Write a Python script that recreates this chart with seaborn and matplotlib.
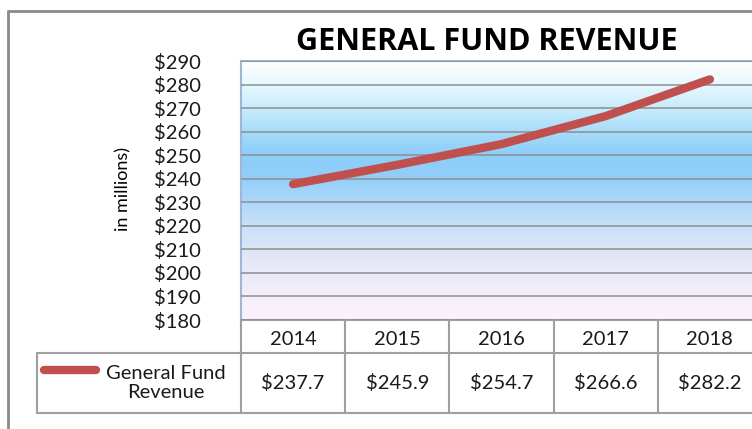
import numpy as np
import pandas as pd
import matplotlib
matplotlib.use("Agg")
import matplotlib.pyplot as plt
from matplotlib.colors import LinearSegmentedColormap
from matplotlib.lines import Line2D
import matplotlib.transforms as mtrans
import seaborn as sns

# ---- data ----
years = ["2014", "2015", "2016", "2017", "2018"]
revenue = [237.7, 245.9, 254.7, 266.6, 282.2]
value_labels = ["$237.7", "$245.9", "$254.7", "$266.6", "$282.2"]
y_ticks = [180, 190, 200, 210, 220, 230, 240, 250, 260, 270, 280, 290]
series_name = "General Fund\nRevenue"
title = "GENERAL FUND REVENUE"
y_label = "in millions)"

sns.set_theme(style="white")
plt.rcParams["font.family"] = ["Lato", "DejaVu Sans"]

W, H = 752, 429
fig = plt.figure(figsize=(W / 100, H / 100), dpi=100)
fig.patch.set_facecolor("white")

def fx(px):
    return px / W

def fy(py):
    return 1 - py / H

FS = 14.5
TXT = "#1a1a1a"

# plot area in pixels
L, T, B = 241, 61, 320
CW = 104.2
R = L + 5 * CW
ax = fig.add_axes([fx(L), fy(B), (R - L) / W, (B - T) / H])

# gradient background
stops = [
    (0.00, "#fdf2fb"),
    (0.09, "#f5eefa"),
    (0.18, "#ebeaf8"),
    (0.27, "#dde6f6"),
    (0.36, "#c9e0f8"),
    (0.45, "#b0d8fa"),
    (0.55, "#92cff9"),
    (0.64, "#8ccdf9"),
    (0.73, "#a8dcfa"),
    (0.82, "#c8ecfc"),
    (0.91, "#e6f8fe"),
    (1.00, "#ffffff"),
]
cmap = LinearSegmentedColormap.from_list("bg", stops)
grad = np.linspace(0, 1, 256).reshape(-1, 1)
ax.imshow(grad, cmap=cmap, origin="lower", extent=[0, 1, 0, 1],
          transform=ax.transAxes, aspect="auto", zorder=0)

df = pd.DataFrame({"year": years, "revenue": revenue})
sns.lineplot(data=df, x="year", y="revenue", ax=ax, color="#C0504D",
             linewidth=6, zorder=3, solid_capstyle="round", sort=False)

ax.set_xlim(-0.5, 4.5)
ax.set_ylim(180, 290)
ax.set_yticks(y_ticks)
ax.set_yticklabels([f"${v}" for v in y_ticks], fontsize=FS, color=TXT)
ax.yaxis.grid(True, color="#8e8e8e", linewidth=1.1, zorder=1)
ax.set_axisbelow(False)
ax.set_xticks(range(len(years)))
ax.set_xticklabels(years, fontsize=FS, color=TXT)
ax.tick_params(axis="x", length=0, pad=8)
ax.tick_params(axis="y", length=0, pad=29)
ax.set_xlabel("")
ax.set_ylabel("")
for s in ["top", "left"]:
    ax.spines[s].set_color("#9fb6d4")
    ax.spines[s].set_linewidth(1.5)
ax.spines["bottom"].set_color("#a0a0a0")
ax.spines["bottom"].set_linewidth(1.5)
ax.spines["right"].set_visible(False)

# values row (positions from the axis scale)
blend = mtrans.blended_transform_factory(ax.transData, ax.transAxes)
val_y = (B - 383) / (B - T)
for i, lab in enumerate(value_labels):
    ax.text(i, val_y, lab, transform=blend, ha="center", va="center",
            fontsize=FS, color=TXT, clip_on=False)

# table lines
gcol = "#a0a0a0"
def hline(y, x0, x1, c=gcol, lw=1.5):
    fig.add_artist(Line2D([fx(x0), fx(x1)], [fy(y), fy(y)], color=c, lw=lw,
                          transform=fig.transFigure))

def vline(x, y0, y1, c=gcol, lw=1.5):
    fig.add_artist(Line2D([fx(x), fx(x)], [fy(y0), fy(y1)], color=c, lw=lw,
                          transform=fig.transFigure))

hline(353, 37, W)
hline(413, 37, W)
vline(37, 353, 413)
for k in range(5):
    vline(L + k * CW, B, 413)

# legend key
fig.add_artist(Line2D([fx(44), fx(96)], [fy(370), fy(370)], color="#C0504D",
                      lw=6, solid_capstyle="round", transform=fig.transFigure))
fig.text(fx(166), fy(383), series_name, ha="center", va="center",
         fontsize=FS, color=TXT, linespacing=1.2)

# outer border
hline(11, 8, W, c="#8a8a8a", lw=2)
vline(8, 11, H, c="#8a8a8a", lw=2)

# title and y label
fig.text(fx(487), fy(42), title, ha="center", va="center", fontsize=22,
         fontweight="bold", color="black", family=["Open Sans", "DejaVu Sans"])
fig.text(fx(123), fy(189), y_label, ha="center", va="center", rotation=90,
         fontsize=13, color="black")

fig.savefig("out.png", dpi=100)
